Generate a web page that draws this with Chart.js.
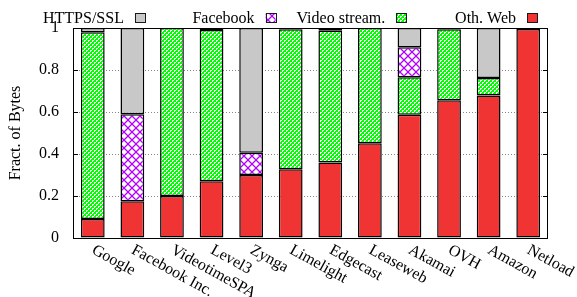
<!DOCTYPE html>
<html>
<head>
<meta charset="utf-8">
<script src="https://cdn.jsdelivr.net/npm/chart.js@4.4.1/dist/chart.umd.min.js"></script>
<style>
html,body{margin:0;padding:0;background:#fff;}
#c{display:block;}
</style>
</head>
<body>
<canvas id="c" width="577" height="297" style="width:577px;height:297px"></canvas>
<script>
const categories = ['Google','Facebook Inc.','VideotimeSPA','Level3','Zynga','Limelight','Edgecast','Leaseweb','Akamai','OVH','Amazon','Netload'];
const othWeb   = [0.09, 0.175, 0.20, 0.27, 0.30, 0.327, 0.359, 0.451, 0.587, 0.656, 0.678, 0.995];
const videoStr = [0.89, 0,     0.80, 0.72, 0,    0.667, 0.628, 0.549, 0.178, 0.338, 0.084, 0.005];
const facebook = [0,    0.414, 0,    0,    0.106, 0,    0,     0,     0.143, 0,     0,     0];
const httpsSsl = [0.02, 0.411, 0,    0.01, 0.594, 0.006, 0.013, 0,    0.092, 0.006, 0.238, 0];
const yTicks = [0, 0.2, 0.4, 0.6, 0.8, 1];
const yTickLabels = ['0', '0.2', '0.4', '0.6', '0.8', '1'];
const seriesNames = ['Oth. Web', 'Video stream.', 'Facebook', 'HTTPS/SSL'];

const FONT = '"Liberation Serif", "DejaVu Serif", serif';

function greenPattern() {
  const c = document.createElement('canvas'); c.width = 4; c.height = 4;
  const x = c.getContext('2d');
  x.fillStyle = '#00ff00'; x.fillRect(0,0,4,4);
  x.fillStyle = '#ffffff';
  x.fillRect(0,0,2,1); x.fillRect(0,1,1,1);
  x.fillRect(2,2,2,1); x.fillRect(2,3,1,1);
  return x.createPattern(c, 'repeat');
}
function purplePattern() {
  const c = document.createElement('canvas'); c.width = 8; c.height = 8;
  const x = c.getContext('2d');
  x.fillStyle = '#ffffff'; x.fillRect(0,0,8,8);
  x.strokeStyle = '#b400ff'; x.lineWidth = 1.3;
  x.beginPath(); x.moveTo(-1,-1); x.lineTo(9,9); x.moveTo(9,-1); x.lineTo(-1,9); x.stroke();
  return x.createPattern(c, 'repeat');
}
const RED = '#f03434', GRAY = '#c8c8c8';
const GREEN = greenPattern(), PURPLE = purplePattern();

const bw = ctx => (ctx.raw ? 1.5 : 0);

const ds = (label, data, bg) => ({
  label, data, backgroundColor: bg, borderColor: '#000', borderWidth: bw,
  borderSkipped: false, categoryPercentage: 1.0, barPercentage: 0.6
});

const framePlugin = {
  id: 'frame',
  afterDraw(chart) {
    const {ctx, chartArea: a, scales} = chart;
    ctx.save();
    ctx.strokeStyle = '#000'; ctx.lineWidth = 1;
    ctx.strokeRect(Math.round(a.left)+0.5, Math.round(a.top)+0.5, Math.round(a.right-a.left)-1, Math.round(a.bottom-a.top));
    ctx.beginPath();
    yTicks.forEach(v => {
      const y = Math.round(scales.y.getPixelForValue(v)) + 0.5;
      ctx.moveTo(a.left, y); ctx.lineTo(a.left + 5, y);
      ctx.moveTo(a.right - 5, y); ctx.lineTo(a.right, y);
    });
    ctx.stroke();
    ctx.fillStyle = '#000';
    ctx.font = '16px ' + FONT;
    ctx.textAlign = 'left'; ctx.textBaseline = 'top';
    categories.forEach((lab, i) => {
      const x = scales.x.getPixelForValue(i);
      ctx.save();
      ctx.translate(x + 4, a.bottom + 4);
      ctx.rotate(29 * Math.PI / 180);
      ctx.fillText(lab, 0, 0);
      ctx.restore();
    });
    ctx.font = '16px ' + FONT;
    ctx.textAlign = 'right'; ctx.textBaseline = 'alphabetic';
    const items = chart.data.datasets.map(d => d).reverse();
    items.forEach((d, i) => {
      const bx = a.right - 21 - (items.length - 1 - i) * 130.7;
      const by = 13;
      ctx.fillStyle = '#000';
      ctx.fillText(d.label, bx - 11, 23);
      ctx.fillStyle = d.backgroundColor;
      ctx.fillRect(bx, by, 10, 9);
      ctx.strokeStyle = '#1a1a1a';
      ctx.strokeRect(Math.round(bx)+0.5, by+0.5, 10, 9);
    });
    ctx.restore();
  }
};

new Chart(document.getElementById('c'), {
  type: 'bar',
  data: {
    labels: categories,
    datasets: [
      ds(seriesNames[0], othWeb, RED),
      ds(seriesNames[1], videoStr, GREEN),
      ds(seriesNames[2], facebook, PURPLE),
      ds(seriesNames[3], httpsSsl, GRAY)
    ]
  },
  options: {
    responsive: false,
    animation: false,
    devicePixelRatio: 1,
    layout: { padding: { top: 28, right: 29, left: 0, bottom: 0 } },
    plugins: { legend: { display: false }, tooltip: { enabled: false } },
    scales: {
      x: {
        stacked: true,
        grid: { display: false },
        border: { display: false },
        ticks: { display: false },
        afterFit(s) { s.height = 59; }
      },
      y: {
        stacked: true, min: 0, max: 1,
        afterBuildTicks(s) { s.ticks = yTicks.map(v => ({ value: v })); },
        ticks: {
          color: '#000', font: { family: FONT, size: 16 }, padding: 14,
          callback: (v) => yTickLabels[yTicks.indexOf(v)] ?? ''
        },
        grid: { color: '#888', lineWidth: 1, drawTicks: false },
        border: { display: false, dash: [1, 2] },
        title: { display: true, text: 'Fract. of Bytes', color: '#000', font: { family: FONT, size: 16 }, padding: { top: 6, bottom: 0 } },
        afterFit(s) { s.width = 73; }
      }
    }
  },
  plugins: [framePlugin]
});
</script>
</body>
</html>
